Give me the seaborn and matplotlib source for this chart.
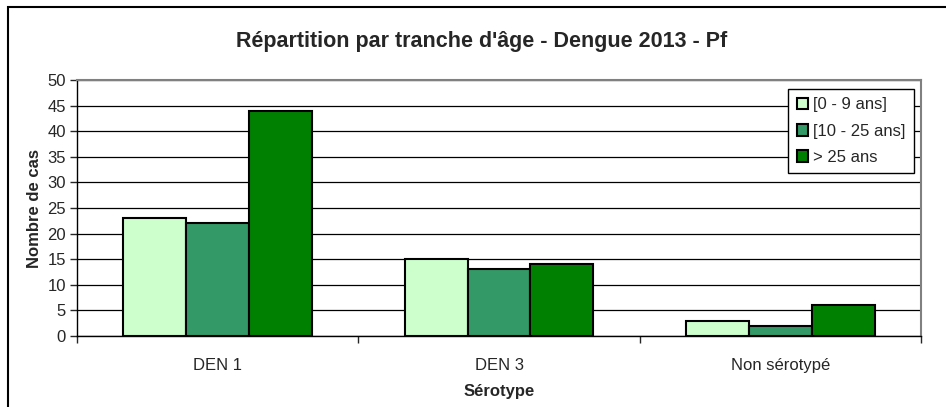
import matplotlib
matplotlib.use('Agg')
import matplotlib.pyplot as plt
import seaborn as sns
import pandas as pd
from matplotlib.patches import Rectangle
from matplotlib.ticker import FixedLocator

# Données
categories = ['DEN 1', 'DEN 3', 'Non sérotypé']
tranches = ['[0 - 9 ans]', '[10 - 25 ans]', '> 25 ans']
age_0_9 = [23, 15, 3]
age_10_25 = [22, 13, 2]
age_25_plus = [44, 14, 6]
couleurs = ['#CCFFCC', '#339966', '#008000']

df = pd.DataFrame({
    'Sérotype': categories * 3,
    'Tranche': [t for t in tranches for _ in categories],
    'Cas': age_0_9 + age_10_25 + age_25_plus,
})

sns.set_style('white')
plt.rcParams['font.family'] = ['Liberation Sans', 'DejaVu Sans']

fig = plt.figure(figsize=(9.46, 4.07), dpi=100)
ax = fig.add_axes([77 / 946, 71 / 407, 844 / 946, 256 / 407])

sns.barplot(data=df, x='Sérotype', y='Cas', hue='Tranche', hue_order=tranches,
            palette=couleurs, width=0.67, edgecolor='black', linewidth=1.5,
            saturation=1, ax=ax, zorder=3)

ax.set_ylim(0, 50)
ax.set_xlim(-0.5, 2.5)
ax.set_yticks(range(0, 51, 5))
ax.yaxis.grid(True, color='black', linewidth=0.9, zorder=0)
ax.set_axisbelow(True)

for s in ['top', 'right']:
    ax.spines[s].set_color('#808080')
    ax.spines[s].set_linewidth(1.5)
for s in ['left', 'bottom']:
    ax.spines[s].set_color('black')
    ax.spines[s].set_linewidth(1.0)

ax.tick_params(axis='y', which='major', left=True, length=5, width=1, labelsize=12, pad=3)
ax.tick_params(axis='x', which='major', bottom=False, labelsize=12, pad=12)
ax.xaxis.set_minor_locator(FixedLocator([-0.5, 0.5, 1.5, 2.5]))
ax.tick_params(axis='x', which='minor', bottom=True, length=5, width=1)

ax.set_xlabel('Sérotype', fontsize=12, fontweight='bold', labelpad=8)
ax.set_ylabel('Nombre de cas', fontsize=12, fontweight='bold', labelpad=4)
fig.suptitle("Répartition par tranche d'âge - Dengue 2013 - Pf", x=482 / 946, y=1 - 42 / 407,
             va='center', fontsize=15.5, fontweight='bold')

handles, labels = ax.get_legend_handles_labels()
ax.legend(handles, labels, loc='upper right', bbox_to_anchor=(914 / 946, 1 - 89 / 407),
          bbox_transform=fig.transFigure, fontsize=12, frameon=True, fancybox=False,
          edgecolor='black', framealpha=1, handlelength=0.7, handleheight=0.7,
          handletextpad=0.3, borderpad=0.5, labelspacing=0.68, borderaxespad=0)
ax.get_legend().get_frame().set_linewidth(1.0)

# Cadre extérieur
fig.patches.append(Rectangle((8 / 946, -0.1), 2, 1.1 - 7 / 407, transform=fig.transFigure,
                             fill=False, edgecolor='black', linewidth=1.5))

fig.savefig('out.png', dpi=100)
